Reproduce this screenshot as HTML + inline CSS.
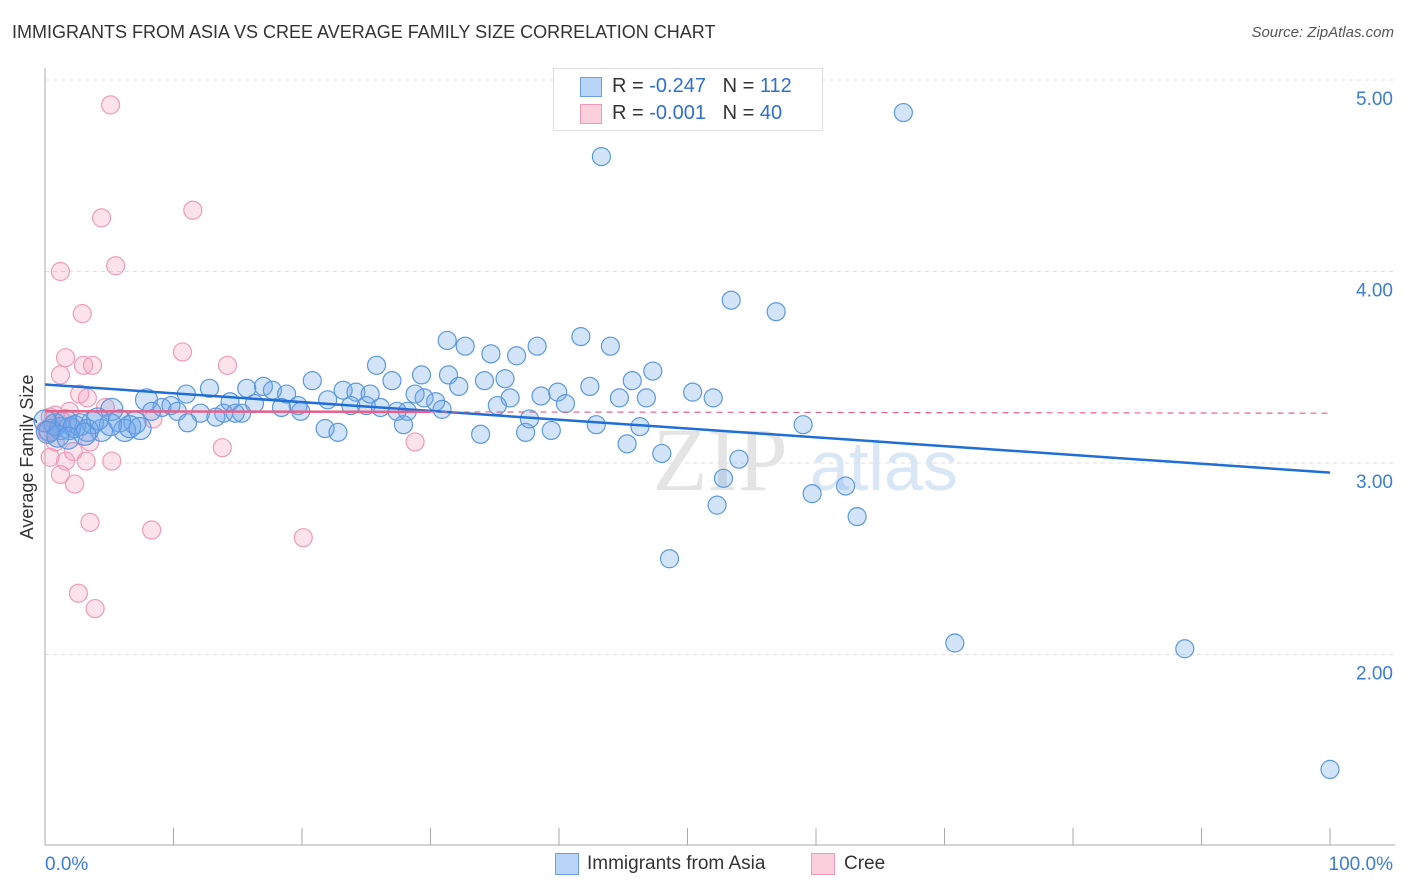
<!DOCTYPE html>
<html><head><meta charset="utf-8"><style>
body{margin:0;background:#fff;font-family:"Liberation Sans",sans-serif;}
#wrap{position:relative;width:1406px;height:892px;overflow:hidden}
.t{position:absolute;white-space:nowrap}
</style></head><body>
<div id="wrap">
<div class="t" style="left:12px;top:22px;font-size:18px;color:#333">IMMIGRANTS FROM ASIA VS CREE AVERAGE FAMILY SIZE CORRELATION CHART</div>
<div class="t" style="right:12px;top:24px;font-size:15px;color:#555;font-style:italic">Source: ZipAtlas.com</div>
<svg id="svg" width="1406" height="892" style="position:absolute;left:0;top:0"></svg>
</div>
<script>
const yTicks=[5,4,3,2];
const yTickLabels=["5.00","4.00","3.00","2.00"];
const xEndLabels=["0.0%","100.0%"];
const asiaX=[66.8,43.3,53.4,56.9,41.7,31.3,32.7,44.0,38.3,34.7,36.7,25.8,47.3,31.4,29.3,45.7,20.8,35.8,34.2,42.4,27.0,17.0,15.7,12.8,11.0,17.7,18.8,23.2,24.2,32.2,50.4,39.9,38.6,52.0,46.8,44.7,40.5,22.0,36.2,29.5,30.4,7.9,9.1,9.8,14.4,19.7,16.3,18.4,25.0,26.1,28.2,27.4,35.2,30.9,12.1,13.9,15.3,10.3,8.3,7.0,11.1,13.3,5.2,5.8,3.7,2.7,1.9,1.2,0.4,4.4,6.2,6.6,0.8,1.6,2.3,3.3,21.8,22.8,27.9,37.7,39.4,42.9,46.3,33.9,37.4,59.0,45.3,48.0,54.0,52.8,59.7,62.3,52.3,63.2,48.6,70.8,88.7,100,0,0.2,1.0,1.8,3.1,7.4,19.9,25.3,28.8,23.8,14.8,5.1,4.1];
const asiaY=[4.83,4.60,3.85,3.79,3.66,3.64,3.61,3.61,3.61,3.57,3.56,3.51,3.48,3.46,3.46,3.43,3.43,3.44,3.43,3.40,3.43,3.40,3.39,3.39,3.36,3.38,3.36,3.38,3.37,3.40,3.37,3.37,3.35,3.34,3.34,3.34,3.31,3.33,3.34,3.34,3.32,3.33,3.29,3.30,3.32,3.30,3.31,3.29,3.30,3.29,3.27,3.27,3.30,3.28,3.26,3.26,3.26,3.27,3.27,3.21,3.21,3.24,3.28,3.22,3.21,3.20,3.18,3.18,3.17,3.17,3.17,3.19,3.20,3.22,3.19,3.17,3.18,3.16,3.20,3.23,3.17,3.20,3.19,3.15,3.16,3.20,3.10,3.05,3.02,2.92,2.84,2.88,2.78,2.72,2.50,2.06,2.03,1.40,3.22,3.16,3.14,3.13,3.15,3.18,3.27,3.36,3.36,3.30,3.26,3.20,3.23];
const creeX=[5.1,4.4,11.5,5.5,1.2,2.9,1.6,3.7,3.0,1.2,10.7,14.2,2.7,3.3,4.7,1.9,8.4,0.8,1.3,2.1,0.4,0,0.8,3.5,13.8,28.8,2.2,3.2,1.6,5.2,0.4,1.2,2.3,3.5,8.3,20.1,2.6,3.9,0.2,0.5];
const creeY=[4.87,4.28,4.32,4.03,4.00,3.78,3.55,3.51,3.51,3.46,3.58,3.51,3.36,3.34,3.29,3.27,3.23,3.25,3.22,3.19,3.24,3.17,3.11,3.11,3.08,3.11,3.06,3.01,3.01,3.01,3.03,2.94,2.89,2.69,2.65,2.61,2.32,2.24,3.16,3.20];
const asiaFit=[3.41,2.95];
const creeFit=[3.27,3.26];

const NS="http://www.w3.org/2000/svg";
const svg=document.getElementById('svg');
const X0=45,X1=1330,YT=80,YB=845;
const sx=p=>X0+p/100*(X1-X0);
const sy=v=>YT+(5-v)*191.5;
function el(tag,attrs,parent){const e=document.createElementNS(NS,tag);for(const k in attrs)e.setAttribute(k,attrs[k]);(parent||svg).appendChild(e);return e;}

// gridlines
yTicks.forEach((v,i)=>{
  const g=el('line',{x1:X0,x2:1395,y1:sy(v),y2:sy(v),stroke:'#ddd','stroke-dasharray':'4,4'});
  
  
  const t=el('text',{x:1393,y:sy(v)+25,'text-anchor':'end','font-size':19,fill:'#3b7dd8','font-family':'Liberation Sans'});
  t.textContent=yTickLabels[i];
  
  
});
// axes
const ax=el('line',{x1:X0,x2:X0,y1:68,y2:YB,stroke:'#aaa'});


const bx=el('line',{x1:X0,x2:1395,y1:YB,y2:YB,stroke:'#aaa'});


for(let i=0;i<=10;i++){
  const tk=el('line',{x1:sx(i*10),x2:sx(i*10),y1:828,y2:YB,stroke:'#aaa'});
  
  
}
const xl=el('text',{x:45,y:870,'font-size':19,fill:'#3b7dd8','font-family':'Liberation Sans'});xl.textContent=xEndLabels[0];


const xr=el('text',{x:1393,y:870,'text-anchor':'end','font-size':19,fill:'#3b7dd8','font-family':'Liberation Sans'});xr.textContent=xEndLabels[1];


const yt=el('text',{transform:'translate(33,457) rotate(-90)','text-anchor':'middle','font-size':18,fill:'#333','font-family':'Liberation Sans'});yt.textContent='Average Family Size';


// watermark
const wm=el('text',{x:720,y:490,'text-anchor':'middle','font-size':90,fill:'#e4e4e4','font-family':'Liberation Serif'});wm.textContent='ZIP';


const wm2=el('text',{x:810,y:490,'font-size':70,fill:'#d8e6f6','font-family':'Liberation Sans'});wm2.textContent='atlas';


// points
creeX.forEach((x,i)=>{
  const c=el('circle',{cx:sx(x),cy:sy(creeY[i]),r:9,fill:'rgba(245,160,190,0.3)',stroke:'#f09ab8','stroke-width':1.2});
  
  
});
asiaX.forEach((x,i)=>{
  const c=el('circle',{cx:sx(x),cy:sy(asiaY[i]),r:x<8?11:9,fill:'rgba(110,165,235,0.3)',stroke:'#5b98e0','stroke-width':1.2});
  
  
});
// fits
const l1=el('line',{x1:sx(0),y1:sy(asiaFit[0]),x2:sx(100),y2:sy(asiaFit[1]),stroke:'#1f6fd6','stroke-width':2.5});


const cm=creeFit[0]+(creeFit[1]-creeFit[0])*0.3;
const l2=el('line',{x1:sx(0),y1:sy(creeFit[0]),x2:sx(30),y2:sy(cm),stroke:'#e8608a','stroke-width':2.5});


const l3=el('line',{x1:sx(30),y1:sy(cm),x2:sx(100),y2:sy(creeFit[1]),stroke:'#e8608a','stroke-width':1.2,'stroke-dasharray':'6,5'});


</script>
<div class="t" style="left:553px;top:68px;width:268px;height:61px;border:1px solid #ddd;background:#fff">
 <div style="position:absolute;left:26px;top:8px;width:20px;height:18px;background:#b8d4f6;border:1px solid #6aa0e0"></div>
 <div style="position:absolute;left:58px;top:6px;font-size:20px;color:#333">R = <span style="color:#2f6fd0">-0.247</span>&nbsp;&nbsp;&nbsp;N = <span style="color:#2f6fd0">112</span></div>
 <div style="position:absolute;left:26px;top:35px;width:20px;height:18px;background:#fbcfdc;border:1px solid #f09ab8"></div>
 <div style="position:absolute;left:58px;top:33px;font-size:20px;color:#333">R = <span style="color:#2f6fd0">-0.001</span>&nbsp;&nbsp;&nbsp;N = <span style="color:#2f6fd0">40</span></div>
</div>
<div class="t" style="left:555px;top:853px;width:22px;height:20px;background:#b8d4f6;border:1px solid #6aa0e0"></div>
<div class="t" style="left:587px;top:853px;font-size:19px;color:#333">Immigrants from Asia</div>
<div class="t" style="left:811px;top:853px;width:22px;height:20px;background:#fbcfdc;border:1px solid #f09ab8"></div>
<div class="t" style="left:844px;top:853px;font-size:19px;color:#333">Cree</div>
</body></html>
